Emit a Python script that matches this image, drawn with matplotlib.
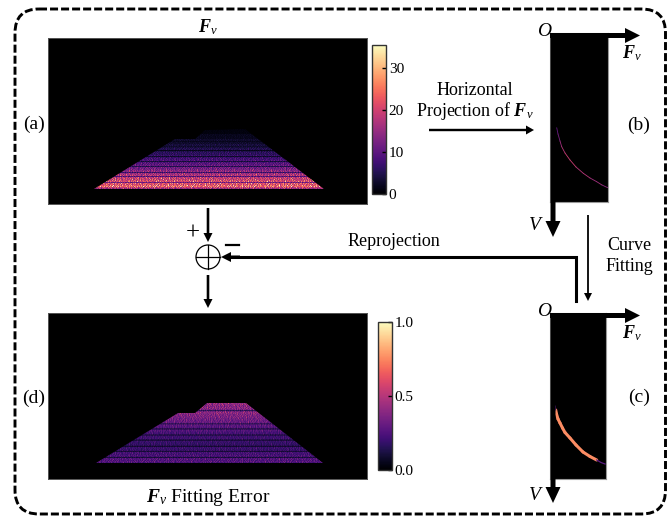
import numpy as np
import matplotlib
matplotlib.use("Agg")
import matplotlib.pyplot as plt
from matplotlib.collections import LineCollection
from matplotlib.patches import Circle, FancyBboxPatch, Polygon

plt.rcParams["font.family"] = ["Liberation Serif"]
plt.rcParams["mathtext.fontset"] = "custom"
plt.rcParams["mathtext.rm"] = "Liberation Serif"
plt.rcParams["mathtext.it"] = "Liberation Serif:italic"
plt.rcParams["mathtext.bf"] = "Liberation Serif:italic:bold"

FV = r"$\mathbf{F}_{\mathit{v}}$"
W, H = 667, 516

# mean level of each image row, top of the road to the bottom
rows_a = [1, 1, 1, 1, 1, 2, 2, 2, 2, 2, 3, 3, 2, 3, 3, 4, 4, 3, 4, 5,
          5, 2, 5, 6, 6, 6, 7, 3, 7, 8, 8, 9, 4, 9, 10, 10, 11, 5, 12, 12,
          13, 14, 15, 7, 16, 17, 18, 9, 19, 20, 20, 21, 22, 12, 23, 22, 24, 25, 20, 16]
rows_d = [.40, .44, .42, .41, .38, .41, .39, .36, .15, .38,
          .42, .40, .37, .38, .36, .37, .33, .35, .32, .33,
          .31, .13, .30, .28, .28, .26, .10, .26, .27, .23,
          .24, .22, .09, .22, .20, .23, .20, .07, .21, .19,
          .20, .18, .20, .06, .20, .21, .19, .22, .08, .23,
          .24, .22, .25, .24, .10, .26, .27, .25, .28, .24]

# speckle multipliers and the sideways shift of each row
grain = [1.1, .5, 1.3, .8, 1.5, .3, 1.0, 1.2, .6, 1.4, .9, .2, 1.3, .7, 1.1, 1.6, .4, 1.0, .8,
         1.2, .5, 1.5, .9, .3, 1.3, 1.0, .6, 1.4, .7, 1.1, .4, 1.2, .9, 1.6, .5, 1.0, .8]
grain2 = [1.0, 1.3, .7, .9, 1.4, .6, 1.1, .8, 1.2, 1.5, .5, 1.0, .9, 1.3, .7, 1.1, .6, 1.4, 1.0, .8, 1.2, .7, 1.1]
row_shift = [0, 11, 5, 23, 17, 2, 29, 8, 14, 33, 20, 6, 26, 3, 19, 35, 9, 31, 13]
row_shift2 = [4, 15, 9, 1, 20, 12, 6, 17, 3, 22, 10]
GRAIN_AMOUNT = 0.4

# road outlines inside the 319x166 panels
outline_a = [(46, 151), (127, 101), (147, 101), (157, 92), (197, 91), (276, 151)]
outline_d = [(48, 150), (130, 100), (147, 100), (159, 90), (198, 90), (275, 150)]

# projected curves: F_v position, V position, value
curve_b_x = [6.7, 8, 10, 11.7, 15, 20, 26, 33.3, 40, 46.7, 52, 57.7]
curve_b_y = [94.7, 101, 108, 113.7, 120, 127, 134, 140.3, 145, 148.7, 152, 154.7]
curve_b_c = [.3, .35, .45, .5, .55, .55, .5, .5, .45, .45, .4, .35]
curve_c_x = [5.7, 6.5, 8, 10, 12.5, 15, 20, 26, 33, 40, 46.7]
curve_c_y = [97, 101, 106, 110, 115, 119.5, 125, 132, 139, 143.5, 147]
curve_c_top_x = [5.4, 5.7]
curve_c_top_y = [93, 97]
curve_c_end_x = [46.7, 51, 55]
curve_c_end_y = [147, 149.5, 151]

ticks_a = [0, 10, 20, 30]
ticks_d = [0.0, 0.5, 1.0]


def px_axes(fig, x0, y0, x1, y1):
    return fig.add_axes([x0 / W, 1 - y1 / H, (x1 - x0) / W, (y1 - y0) / H])


def road_image(fig, box, rows, top, outline, vmax):
    ax = px_axes(fig, *box)
    ax.set_facecolor("black")
    table = np.zeros((len(rows), 319))
    for i, level in enumerate(rows):
        speck = np.resize(np.roll(grain, row_shift[i % len(row_shift)]), 319)
        speck2 = np.resize(np.roll(grain2, row_shift2[i % len(row_shift2)]), 319)
        table[i] = level * (1 + (speck * speck2 - 1) * GRAIN_AMOUNT)
    im = ax.imshow(table, cmap="magma", vmin=0, vmax=vmax, aspect="auto",
                   extent=(0, 319, top + len(rows), top), interpolation="bilinear")
    clip = Polygon(outline, closed=True, transform=ax.transData)
    im.set_clip_path(clip)
    ax.set_xlim(0, 319)
    ax.set_ylim(166, 0)
    ax.set_xticks([])
    ax.set_yticks([])
    for s in ax.spines.values():
        s.set_color("#555555")
        s.set_linewidth(0.7)
    return im


def colorbar(fig, im, box, ticks, labels):
    cax = px_axes(fig, *box)
    cb = fig.colorbar(im, cax=cax)
    cb.set_ticks(ticks)
    cb.set_ticklabels(labels)
    cb.ax.tick_params(labelsize=11, length=3, width=1, pad=2, direction="in", color="black")
    cb.outline.set_linewidth(1)
    cb.outline.set_edgecolor("#333333")


def curve_panel(fig, box, xs, ys, vals, lw):
    ax = px_axes(fig, *box)
    ax.set_facecolor("black")
    pts = np.column_stack([xs, ys])
    segs = np.stack([pts[:-1], pts[1:]], axis=1)
    lc = LineCollection(segs, cmap="magma", linewidths=lw, capstyle="round")
    lc.set_array(np.array(vals[:-1]))
    lc.set_clim(0, 1)
    ax.add_collection(lc)
    ax.set_xlim(0, box[2] - box[0])
    ax.set_ylim(box[3] - box[1], 0)
    ax.set_xticks([])
    ax.set_yticks([])
    for s in ax.spines.values():
        s.set_color("#999999")
        s.set_linewidth(0.8)
    return ax


def arrow(ax, x0, y0, x1, y1, width, head_w, head_l):
    ax.arrow(x0, y0, x1 - x0, y1 - y0, width=width, head_width=head_w, head_length=head_l,
             length_includes_head=True, fc="black", ec="none", zorder=6)


fig = plt.figure(figsize=(W / 100, H / 100), dpi=100)

im_a = road_image(fig, (48, 38, 367, 204), rows_a, 91, outline_a, 35.5)
colorbar(fig, im_a, (372, 45, 386, 194), ticks_a, ["0", "10", "20", "30"])
im_d = road_image(fig, (48, 313, 367, 479), rows_d, 90, outline_d, 1)
colorbar(fig, im_d, (378, 322, 392, 470), ticks_d, ["0.0", "0.5", "1.0"])

curve_panel(fig, (550, 33, 608, 202), curve_b_x, curve_b_y, curve_b_c, 0.6)
ax_c = curve_panel(fig, (550, 313, 606, 479), curve_c_x, curve_c_y, [.76] * len(curve_c_x), 2.2)
ax_c.plot(curve_c_end_x, curve_c_end_y, color="#5a1a80", lw=0.9)
ax_c.plot(curve_c_top_x, curve_c_top_y, color="#5a1a80", lw=0.7)

# overlay in picture pixels for the frame, arrows and labels
top = fig.add_axes([0, 0, 1, 1], zorder=5)
top.set_xlim(0, W)
top.set_ylim(H, 0)
top.axis("off")

frame = FancyBboxPatch((15, 9), 650.5, 505, boxstyle="round,pad=0,rounding_size=24",
                       fill=False, ec="black", lw=2.1, ls=(0, (2.75, 1.03)))
top.add_patch(frame)

arrow(top, 208, 208, 208, 242, 2.6, 9, 9)
arrow(top, 208, 275, 208, 308, 2.6, 9, 9)
arrow(top, 429, 130, 534, 130, 2.4, 9, 8)
arrow(top, 588, 215, 588, 301, 1.8, 8, 8)
top.plot([576, 576, 232], [301, 257, 257], color="black", lw=2.2, solid_joinstyle="miter", zorder=6)
arrow(top, 240, 257, 221, 257, 3, 10, 10)

for yaxis, vtip in [(35.5, 237), (315.5, 503)]:
    arrow(top, 550, yaxis, 640, yaxis, 5, 15, 15)
    arrow(top, 553, yaxis - 2, 553, vtip, 5, 15, 16)

top.add_patch(Circle((208, 257), 12, fill=True, fc="white", ec="black", lw=0.9, zorder=7))
top.plot([196, 220], [257, 257], color="black", lw=0.9, zorder=8)
top.plot([208, 208], [245, 269], color="black", lw=0.9, zorder=8)
top.plot([226, 239], [245, 245], color="black", lw=1.6)

top.text(193, 234, "+", fontsize=18, ha="center", va="center")
top.text(208, 27, FV, fontsize=13, ha="center", va="center")
top.text(475, 102, "Horizontal\nProjection of " + FV, fontsize=13, ha="center", va="center",
         linespacing=1.1)
top.text(394, 241, "Reprojection", fontsize=13, ha="center", va="center")
top.text(629, 256, "Curve\nFitting", fontsize=13, ha="center", va="center", linespacing=1.3)
top.text(208, 497, FV + " Fitting Error", fontsize=14, ha="center", va="center")

top.text(34, 124, "(a)", fontsize=14, ha="center", va="center")
top.text(34, 398, "(d)", fontsize=14, ha="center", va="center")
top.text(639, 125, "(b)", fontsize=14, ha="center", va="center")
top.text(639, 397, "(c)", fontsize=14, ha="center", va="center")

for x, y, s in [(544, 31, "O"), (544, 311, "O"), (535, 226, "V"), (535, 496, "V")]:
    top.text(x, y, s, fontsize=14, style="italic", ha="center", va="center")
for y in [53, 333]:
    top.text(632, y, FV, fontsize=13, ha="center", va="center")

fig.savefig("out.png", dpi=100)
plt.close(fig)
